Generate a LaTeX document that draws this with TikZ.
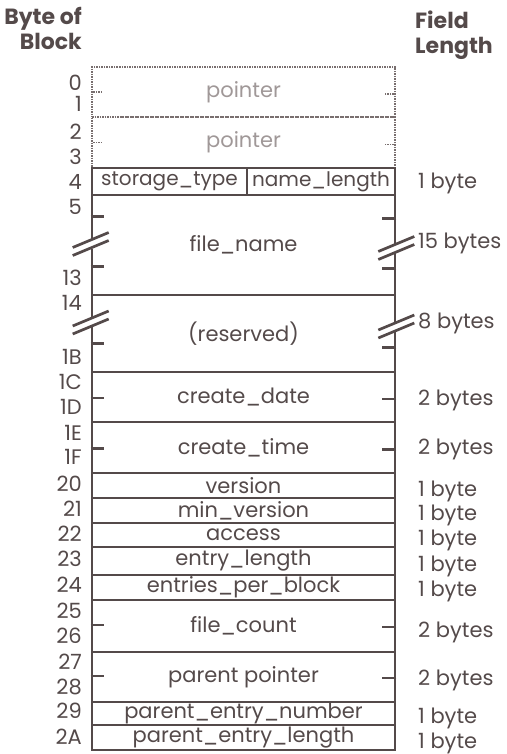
\documentclass[tikz,border=0pt]{standalone}
\usepackage{fontspec}
\setmainfont{Poppins}
\usetikzlibrary{calc}
\definecolor{ink}{RGB}{84,74,74}
\definecolor{faint}{RGB}{160,152,152}
\definecolor{dotline}{RGB}{120,110,110}
\begin{document}
\begin{tikzpicture}[x=1pt,y=-1pt,
  field/.style={draw=ink,line width=2.6pt,minimum width=303pt,inner sep=0pt,text=ink,font=\fontsize{21}{22}\selectfont},
  ptr/.style={draw=dotline,densely dotted,line width=1.5pt,minimum width=303pt,inner sep=0pt,text=faint,font=\fontsize{21}{22}\selectfont},
  bytelab/.style={anchor=east,inner sep=0pt,text=ink,font=\fontsize{21}{22}\selectfont},
  lenlab/.style={anchor=west,inner sep=0pt,text=ink,font=\fontsize{21}{22}\selectfont},
  head/.style={inner sep=0pt,text=ink,font=\bfseries\fontsize{22}{25}\selectfont,align=#1},
  tick/.style={draw=ink,line width=2.6pt},
  ptick/.style={draw=dotline,densely dotted,line width=1.5pt},
  fieldbreak/.pic={
    \fill[white] (-3,-4.5) rectangle (3,4.5);
    \draw[ink,line width=2.7pt] (-18,3.5) -- (18,-11.5);
    \draw[ink,line width=2.7pt] (-18,11.5) -- (18,-3.5);
  }]
\useasboundingbox (0,0) rectangle (506,754);
% headers
\node[head=right,anchor=north east] (hbyte) at (82,7) {Byte of\\Block};
\node[head=left,anchor=north west] (hlen) at (415,11) {Field\\Length};
% pointer fields
\node[ptr,minimum height=50pt] (p1) at (243.5,92) {pointer};
\node[ptr,minimum height=51pt] (p2) at (243.5,142.5) {pointer};
\draw[ptick] ($(p1.west)+(2,0)$) -- ++(10,0);
\draw[ptick] ($(p1.east)+(-2,2)$) -- ++(-10,0);
\draw[ptick] ($(p2.west)+(2,0)$) -- ++(10,0);
\draw[ptick] ($(p2.east)+(-2,2)$) -- ++(-10,0);
% storage_type / name_length
\node[field,minimum width=155pt,minimum height=27pt,font=\fontsize{20}{22}\selectfont] (st) at (169.5,181.5) {storage\_type};
\node[field,minimum width=148pt,minimum height=27pt,font=\fontsize{20}{22}\selectfont] (nl) at (321,181.5) {name\_length};
% file_name
\node[field,minimum height=100pt] (fn) at (243.5,245) {file\_name};
\draw[tick] ($(fn.north west)+(0,23)$) -- ++(13,0);
\draw[tick] ($(fn.north west)+(0,73)$) -- ++(13,0);
\draw[tick] ($(fn.north east)+(0,25)$) -- ++(-14,0);
\draw[tick] ($(fn.north east)+(0,75)$) -- ++(-14,0);
\pic at ($(fn.west)+(0,-1)$) {fieldbreak};
\pic at ($(fn.east)+(0,3)$) {fieldbreak};
% reserved
\node[field,minimum height=77pt] (rs) at (243.5,333.5) {(reserved)};
\draw[tick] ($(rs.north west)+(0,50)$) -- ++(13,0);
\draw[tick] ($(rs.north east)+(0,54)$) -- ++(-14,0);
\pic at ($(rs.west)+(0,-11)$) {fieldbreak};
\pic at ($(rs.east)+(0,-7)$) {fieldbreak};
% two-byte fields
\node[field,minimum height=50pt] (cd) at (243.5,397) {create\_date};
\node[field,minimum height=51pt] (ct) at (243.5,447.5) {create\_time};
\foreach \f in {cd,ct}{
  \draw[tick] ($(\f.west)+(0,1)$) -- ++(13,0);
  \draw[tick] ($(\f.east)+(0,2)$) -- ++(-14,0);
}
% one-byte fields
\node[field,minimum height=25pt] (ver) at (243.5,485.5) {version};
\node[field,minimum height=25pt] (mv) at (243.5,510.5) {min\_version};
\node[field,minimum height=24pt] (acc) at (243.5,535) {access};
\node[field,minimum height=28pt] (el) at (243.5,561) {entry\_length};
\node[field,minimum height=25pt] (epb) at (243.5,587.5) {entries\_per\_block};
\node[field,minimum height=52pt] (fc) at (243.5,626) {file\_count};
\node[field,minimum height=50pt] (pp) at (243.5,677) {parent pointer};
\foreach \f in {fc,pp}{
  \draw[tick] ($(\f.west)+(0,-1)$) -- ++(13,0);
  \draw[tick] ($(\f.east)+(0,1)$) -- ++(-14,0);
}
\node[field,minimum height=23pt] (pen) at (243.5,713.5) {parent\_entry\_number};
\node[field,minimum height=25pt] (pel) at (243.5,737.5) {parent\_entry\_length};
% byte offsets
\foreach \t/\y in {0/83,1/104,2/132,3/157,4/182,5/207,13/278,14/303,1B/357,1C/382,1D/407,1E/433,1F/457,20/484,21/509,22/534,23/559,24/585,25/611,26/636,27/662,28/687,29/711,2A/737}
  \node[bytelab] (b\t) at (82,\y) {\t};
% field lengths
\foreach \n/\t/\y in {r4/1 byte/183,r5/15 bytes/243,r14/8 bytes/323,r1C/2 bytes/400,r1E/2 bytes/449,r20/1 byte/491,r21/1 byte/515,r22/1 byte/540,r23/1 byte/566,r24/1 byte/591,r25/2 bytes/632,r27/2 bytes/680,r29/1 byte/718,r2A/1 byte/743}
  \node[lenlab] (\n) at (418,\y) {\t};
\end{tikzpicture}
\end{document}
